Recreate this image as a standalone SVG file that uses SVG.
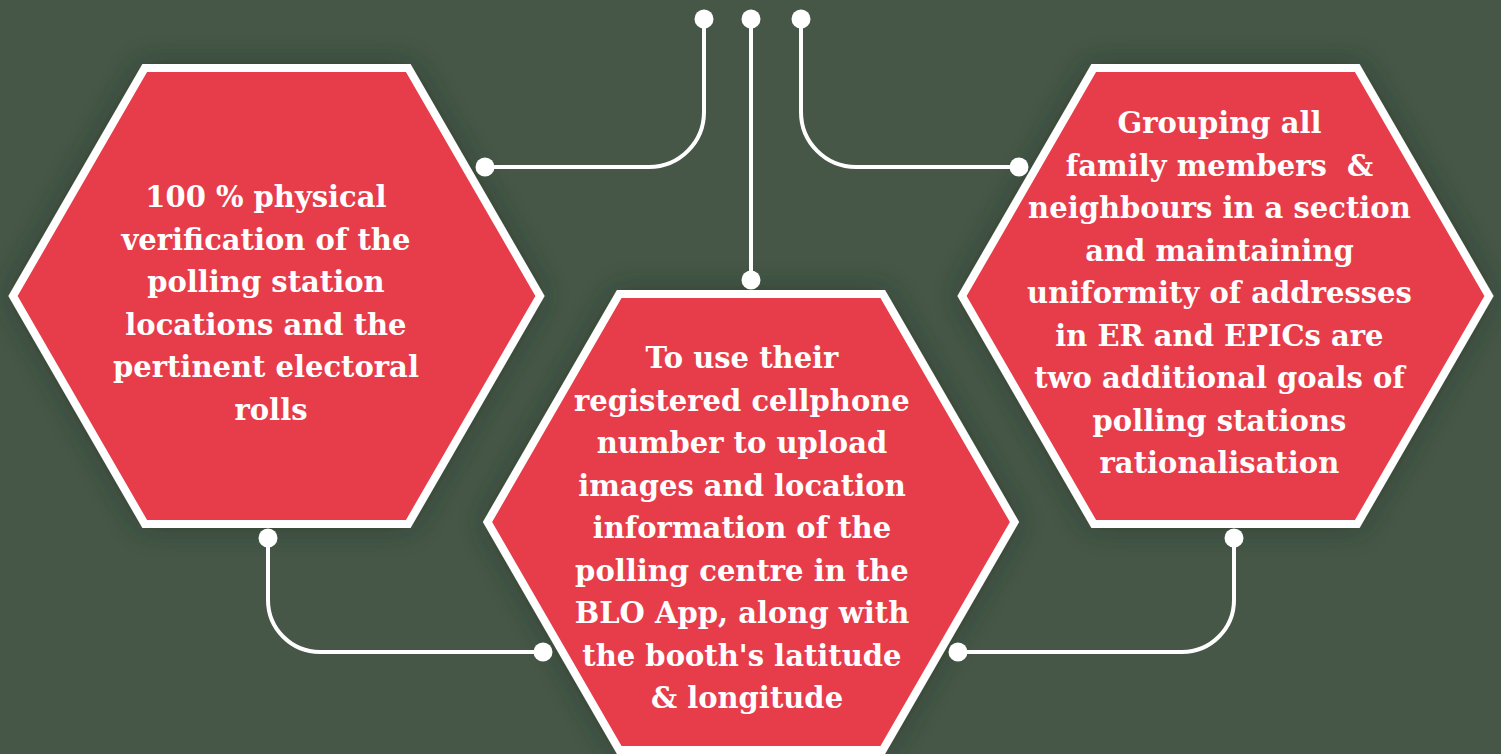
<svg xmlns="http://www.w3.org/2000/svg" width="1501" height="754" viewBox="0 0 1501 754">
<defs>
<filter id="sh" x="-25%" y="-25%" width="150%" height="150%">
<feDropShadow dx="0" dy="0" stdDeviation="14" flood-color="#243026" flood-opacity="0.6"/>
</filter>
</defs>
<style>
.hex{fill:#E73D4C;stroke:#FFFFFF;stroke-width:8;stroke-linejoin:miter;filter:url(#sh)}
.lbl{font-family:"DejaVu Serif","Liberation Serif",serif;font-weight:bold;font-size:29px;fill:#FFFFFF;text-anchor:middle}
.wire{fill:none;stroke:#FFFFFF;stroke-width:4}
.dot{fill:#FFFFFF}
</style>
<rect width="1501" height="754" fill="#465747"/>
<g id="node-left">
<polygon class="hex" points="13,296 144.75,68 408.25,68 540,296 408.25,524 144.75,524"/>
<text class="lbl">
<tspan x="271" y="207">100 % physical</tspan>
<tspan x="271" y="249.5">verification of the</tspan>
<tspan x="271" y="292">polling station</tspan>
<tspan x="271" y="334.5">locations and the</tspan>
<tspan x="271" y="377">pertinent electoral</tspan>
<tspan x="271" y="419.5">rolls</tspan>
</text>
</g>
<g id="node-middle">
<polygon class="hex" points="487.5,522 619.25,294 882.75,294 1014.5,522 882.75,750 619.25,750"/>
<text class="lbl">
<tspan x="747" y="368">To use their</tspan>
<tspan x="747" y="410.5">registered cellphone</tspan>
<tspan x="747" y="453">number to upload</tspan>
<tspan x="747" y="495.5">images and location</tspan>
<tspan x="747" y="538">information of the</tspan>
<tspan x="747" y="580.5">polling centre in the</tspan>
<tspan x="747" y="623">BLO App, along with</tspan>
<tspan x="747" y="665.5">the booth's latitude</tspan>
<tspan x="747" y="708">&amp; longitude</tspan>
</text>
</g>
<g id="node-right">
<polygon class="hex" points="962,296 1093.75,68 1357.25,68 1489,296 1357.25,524 1093.75,524"/>
<text class="lbl" xml:space="preserve">
<tspan x="1224.5" y="133">Grouping all</tspan>
<tspan x="1224.5" y="175.5">family members  &amp;</tspan>
<tspan x="1224.5" y="218">neighbours in a section</tspan>
<tspan x="1224.5" y="260.5">and maintaining</tspan>
<tspan x="1224.5" y="303">uniformity of addresses</tspan>
<tspan x="1224.5" y="345.5">in ER and EPICs are</tspan>
<tspan x="1224.5" y="388">two additional goals of</tspan>
<tspan x="1224.5" y="430.5">polling stations</tspan>
<tspan x="1224.5" y="473">rationalisation</tspan>
</text>
</g>
<g id="connectors">
<path class="wire" d="M704,19 V112 A55,55 0 0 1 649,167 H485"/>
<path class="wire" d="M751,19 V280"/>
<path class="wire" d="M801,19 V112 A55,55 0 0 0 856,167 H1019"/>
<path class="wire" d="M268,538 V600 A52,52 0 0 0 320,652 H543"/>
<path class="wire" d="M1234,538 V600 A52,52 0 0 1 1182,652 H958"/>
<circle class="dot" cx="704" cy="19" r="9.5"/>
<circle class="dot" cx="751" cy="19" r="9.5"/>
<circle class="dot" cx="801" cy="19" r="9.5"/>
<circle class="dot" cx="485" cy="167" r="9.5"/>
<circle class="dot" cx="1019" cy="167" r="9.5"/>
<circle class="dot" cx="751" cy="280" r="9.5"/>
<circle class="dot" cx="268" cy="538" r="9.5"/>
<circle class="dot" cx="543" cy="652" r="9.5"/>
<circle class="dot" cx="1234" cy="538" r="9.5"/>
<circle class="dot" cx="958" cy="652" r="9.5"/>
</g>
</svg>
